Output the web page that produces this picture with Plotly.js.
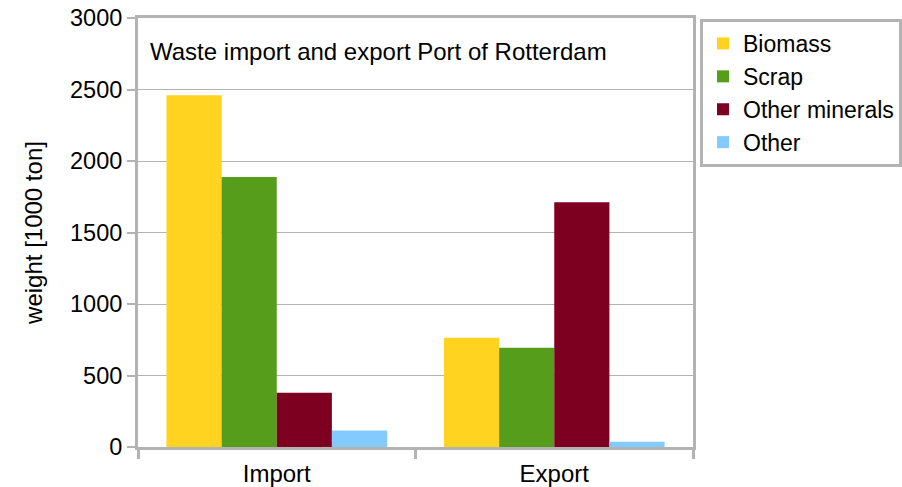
<!DOCTYPE html>
<html>
<head>
<meta charset="utf-8">
<script src="https://cdn.plot.ly/plotly-3.0.1.min.js"></script>
<style>html,body{margin:0;padding:0;background:#fff;}#chart{width:902px;height:487px;}</style>
</head>
<body>
<div id="chart"></div>
<script>
const categories = ["Import", "Export"];
const seriesNames = ["Biomass", "Scrap", "Other minerals", "Other"];
const biomass = [2460, 764];
const scrap = [1888, 694];
const otherMinerals = [380, 1712];
const other = [116, 37];
const colors = ["#ffd320", "#579d1c", "#7e0021", "#83caff"];
const yTicks = [0, 500, 1000, 1500, 2000, 2500, 3000];

const values = [biomass, scrap, otherMinerals, other];
const traces = values.map((v, i) => ({
  type: "bar",
  name: seriesNames[i],
  x: categories,
  y: v,
  marker: {color: colors[i], line: {width: 0}},
  hoverinfo: "x+y+name"
}));

const fam = "Liberation Sans, Arial, sans-serif";
const font = {family: fam, size: 24, color: "#000"};
const layout = {
  width: 902, height: 487,
  margin: {l: 138, r: 209, t: 18, b: 40, pad: 0},
  paper_bgcolor: "#fff", plot_bgcolor: "#fff",
  font: font,
  barmode: "group",
  bargap: 0.205,
  bargroupgap: 0,
  title: {
    text: "Waste import and export Port of Rotterdam",
    font: {family: fam, size: 24, color: "#000"},
    xref: "container", x: 150/902, xanchor: "left",
    yref: "container", y: 1 - 52/487, yanchor: "middle"
  },
  xaxis: {
    type: "category",
    tickson: "boundaries",
    ticks: "outside", ticklen: 9, tickwidth: 3, tickcolor: "#b3b3b3",
    showline: true, linecolor: "#b3b3b3", linewidth: 3, mirror: true,
    showgrid: false, zeroline: false,
    ticklabelstandoff: 3,
    tickfont: font
  },
  yaxis: {
    range: [0, 3000],
    tickvals: yTicks,
    ticktext: yTicks.map(String),
    ticks: "outside", ticklen: 8, tickwidth: 2, tickcolor: "#b3b3b3",
    showline: true, linecolor: "#b3b3b3", linewidth: 3, mirror: true,
    showgrid: true, gridcolor: "#b3b3b3", gridwidth: 1,
    zeroline: false,
    tickfont: {family: fam, size: 23.5, color: "#000"},
    title: {text: "weight [1000 ton]", font: font, standoff: 21}
  },
  legend: {
    xref: "container", x: 700/902, xanchor: "left",
    yref: "container", y: 1 - 19/487, yanchor: "top",
    bordercolor: "#b3b3b3", borderwidth: 3,
    bgcolor: "#fff",
    font: {family: fam, size: 23, color: "#000"},
    tracegroupgap: 0,
    itemwidth: 30
  },
  showlegend: true
};

Plotly.newPlot("chart", traces, layout, {displayModeBar: false, staticPlot: true});
</script>
</body>
</html>
